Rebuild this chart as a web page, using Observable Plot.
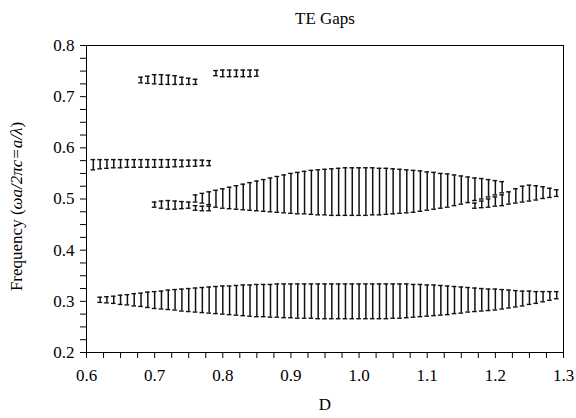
<!DOCTYPE html>
<html>
<head>
<meta charset="utf-8">
<script src="https://cdn.jsdelivr.net/npm/d3@7"></script>
<script src="https://cdn.jsdelivr.net/npm/@observablehq/plot@0.6"></script>
<style>
  html, body { margin: 0; padding: 0; background: #fff; }
  #chart svg { display: block; }
  #chart svg text { font-family: 'Liberation Serif', 'Times New Roman', serif; font-variant: normal; }
</style>
</head>
<body>
<div id="chart"></div>
<script>
// ---- data ----
const titleText = "TE Gaps";
const xLabel = "D";
const xTicks = [0.6, 0.7, 0.8, 0.9, 1.0, 1.1, 1.2, 1.3];
const yTicks = [0.2, 0.3, 0.4, 0.5, 0.6, 0.7, 0.8];

// band gap 1 (lowest)
const g1D = [0.62,0.63,0.64,0.65,0.66,0.67,0.68,0.69,0.70,0.71,0.72,0.73,0.74,0.75,0.76,0.77,0.78,0.79,0.80,0.81,0.82,0.83,0.84,0.85,
             0.86,0.87,0.88,0.89,0.90,0.91,0.92,0.93,0.94,0.95,0.96,0.97,0.98,0.99,1.00,1.01,1.02,1.03,1.04,1.05,1.06,1.07,1.08,
             1.09,1.10,1.11,1.12,1.13,1.14,1.15,1.16,1.17,1.18,1.19,1.20,1.21,1.22,1.23,1.24,1.25,1.26,1.27,1.28,1.29];
const g1Hi = [0.308,0.309,0.310,0.312,0.313,0.315,0.316,0.318,0.319,0.320,0.322,0.323,0.324,0.325,0.326,0.327,0.328,0.329,0.330,0.330,0.331,0.332,0.332,0.333,
              0.333,0.333,0.334,0.334,0.334,0.334,0.334,0.334,0.334,0.334,0.334,0.334,0.334,0.334,0.334,0.334,0.334,0.334,0.334,0.334,0.334,0.334,0.333,
              0.333,0.332,0.332,0.331,0.330,0.329,0.328,0.327,0.326,0.325,0.324,0.324,0.323,0.322,0.321,0.320,0.320,0.319,0.319,0.319,0.319];
const g1Lo = [0.298,0.297,0.296,0.294,0.293,0.291,0.290,0.288,0.286,0.285,0.284,0.283,0.281,0.280,0.279,0.278,0.277,0.276,0.275,0.274,0.273,0.272,0.271,0.270,
              0.270,0.269,0.269,0.268,0.268,0.267,0.267,0.267,0.266,0.266,0.266,0.266,0.266,0.266,0.266,0.266,0.266,0.266,0.266,0.267,0.267,0.268,0.269,
              0.270,0.271,0.272,0.273,0.274,0.276,0.277,0.279,0.280,0.281,0.282,0.283,0.285,0.287,0.289,0.291,0.294,0.296,0.299,0.302,0.305];

// band gap 2 (around 0.5, large)
const g2D = [0.76,0.77,0.78,0.79,0.80,0.81,0.82,0.83,0.84,0.85,0.86,0.87,0.88,0.89,0.90,
             0.91,0.92,0.93,0.94,0.95,0.96,0.97,0.98,0.99,1.00,1.01,1.02,1.03,1.04,1.05,1.06,1.07,1.08,1.09,1.10,1.11,1.12,1.13,1.14,1.15,1.16,1.17,1.18,1.19,1.20,1.21];
const g2Hi = [0.508,0.511,0.514,0.517,0.520,0.523,0.526,0.529,0.532,0.535,0.538,0.541,0.544,0.547,0.550,
              0.552,0.554,0.556,0.557,0.558,0.559,0.560,0.561,0.561,0.561,0.561,0.561,0.560,0.560,0.559,0.558,0.557,0.556,0.555,0.553,0.552,0.550,0.549,0.547,0.545,0.543,0.541,0.540,0.538,0.536,0.534];
const g2Lo = [0.494,0.492,0.489,0.484,0.482,0.481,0.480,0.479,0.478,0.477,0.476,0.475,0.474,0.473,0.472,
              0.471,0.471,0.470,0.469,0.469,0.468,0.468,0.468,0.468,0.468,0.468,0.469,0.469,0.470,0.471,0.472,0.473,0.474,0.476,0.478,0.480,0.482,0.484,0.487,0.490,0.493,0.497,0.500,0.504,0.508,0.512];

// band gap 3 (small, near 0.49, left)
const g3D  = [0.70,0.71,0.72,0.73,0.74,0.75,0.76,0.77,0.78];
const g3Hi = [0.494,0.496,0.497,0.496,0.495,0.494,0.487,0.486,0.486];
const g3Lo = [0.484,0.482,0.480,0.480,0.481,0.482,0.478,0.477,0.477];

// band gap 4 (small, near 0.5, right)
const g4D  = [1.17,1.18,1.19,1.20,1.21,1.22,1.23,1.24,1.25,1.26,1.27,1.28,1.29];
const g4Hi = [0.492,0.496,0.500,0.504,0.508,0.514,0.520,0.525,0.527,0.526,0.524,0.521,0.518];
const g4Lo = [0.482,0.483,0.484,0.486,0.487,0.490,0.492,0.494,0.496,0.498,0.501,0.503,0.505];

// band gap 5 (near 0.57)
const g5D  = [0.61,0.62,0.63,0.64,0.65,0.66,0.67,0.68,0.69,0.70,0.71,0.72,0.73,0.74,0.75,0.76,0.77,0.78];
const g5Hi = [0.577,0.577,0.577,0.577,0.577,0.577,0.577,0.577,0.577,0.577,0.577,0.577,0.577,0.576,0.576,0.576,0.576,0.575];
const g5Lo = [0.557,0.559,0.560,0.561,0.561,0.562,0.562,0.562,0.562,0.562,0.562,0.562,0.563,0.563,0.564,0.564,0.565,0.565];

// band gap 6 (near 0.73)
const g6D  = [0.68,0.69,0.70,0.71,0.72,0.73,0.74,0.75,0.76];
const g6Hi = [0.738,0.740,0.743,0.743,0.742,0.741,0.738,0.736,0.734];
const g6Lo = [0.727,0.726,0.725,0.724,0.724,0.724,0.724,0.724,0.724];

// band gap 7 (near 0.75)
const g7D  = [0.79,0.80,0.81,0.82,0.83,0.84,0.85];
const g7Hi = [0.751,0.752,0.752,0.752,0.752,0.752,0.752];
const g7Lo = [0.741,0.739,0.739,0.739,0.739,0.739,0.740];

// ---- build table ----
const series = [
  [g1D, g1Lo, g1Hi], [g2D, g2Lo, g2Hi], [g3D, g3Lo, g3Hi], [g4D, g4Lo, g4Hi],
  [g5D, g5Lo, g5Hi], [g6D, g6Lo, g6Hi], [g7D, g7Lo, g7Hi]
];
const rows = series.flatMap(([ds, lo, hi]) => ds.map((D, i) => ({D, lo: lo[i], hi: hi[i]})));

const xMinor = d3.range(0, 29).map(i => 0.6 + i * 0.025).filter(v => Math.abs(v*10 - Math.round(v*10)) > 1e-6);
const yMinor = d3.range(0, 25).map(i => 0.2 + i * 0.025).filter(v => Math.abs(v*10 - Math.round(v*10)) > 1e-6);

const capHalf = 0.0034; // in data units of D
const font = "'Liberation Serif', 'Times New Roman', serif";
const ink = "#111";

const chart = Plot.plot({
  width: 576,
  height: 418,
  marginLeft: 86,
  marginRight: 13,
  marginTop: 45,
  marginBottom: 66,
  style: {fontFamily: font, fontSize: "17px", color: "#000", background: "#fff"},
  x: {domain: [0.6, 1.3]},
  y: {domain: [0.2, 0.8]},
  marks: [
    Plot.axisX(xMinor, {tickSize: 6, text: null, stroke: "#000", label: null}),
    Plot.axisX(xTicks, {tickSize: 6, tickPadding: 10, tickFormat: d3.format(".1f"), fontSize: 17, fontFamily: font, stroke: "#000", label: null}),
    Plot.axisY(yMinor, {tickSize: 6, text: null, stroke: "#000", label: null}),
    Plot.axisY(yTicks, {tickSize: 6, tickPadding: 6, tickFormat: d3.format(".1f"), fontSize: 17, fontFamily: font, stroke: "#000", label: null}),
    Plot.frame({stroke: "#000", strokeWidth: 1}),
    Plot.ruleX(rows, {x: "D", y1: "lo", y2: "hi", stroke: ink, strokeWidth: 1.5}),
    Plot.ruleY(rows, {y: "lo", x1: d => d.D - capHalf, x2: d => d.D + capHalf, stroke: ink, strokeWidth: 1.4}),
    Plot.ruleY(rows, {y: "hi", x1: d => d.D - capHalf, x2: d => d.D + capHalf, stroke: ink, strokeWidth: 1.4}),
    Plot.text([titleText], {frameAnchor: "top", dy: -34, fontSize: 17, fontFamily: font, fill: "#000"}),
    Plot.text([xLabel], {frameAnchor: "bottom", dy: 57, fontSize: 17, fontFamily: font, fill: "#000"})
  ]
});

document.getElementById("chart").appendChild(chart);

// y-axis label with italic math part
const svg = d3.select(chart);
const cy = (45 + (418 - 66)) / 2 + 8;
const t = svg.append("text")
  .attr("transform", `translate(22,${cy}) rotate(-90)`)
  .attr("text-anchor", "middle")
  .attr("font-family", font)
  .attr("font-size", 17)
  .attr("fill", "#000");
t.append("tspan").text("Frequency (");
t.append("tspan").attr("font-style", "italic").text("ωa/2πc=a/λ");
t.append("tspan").text(")");
</script>
</body>
</html>
